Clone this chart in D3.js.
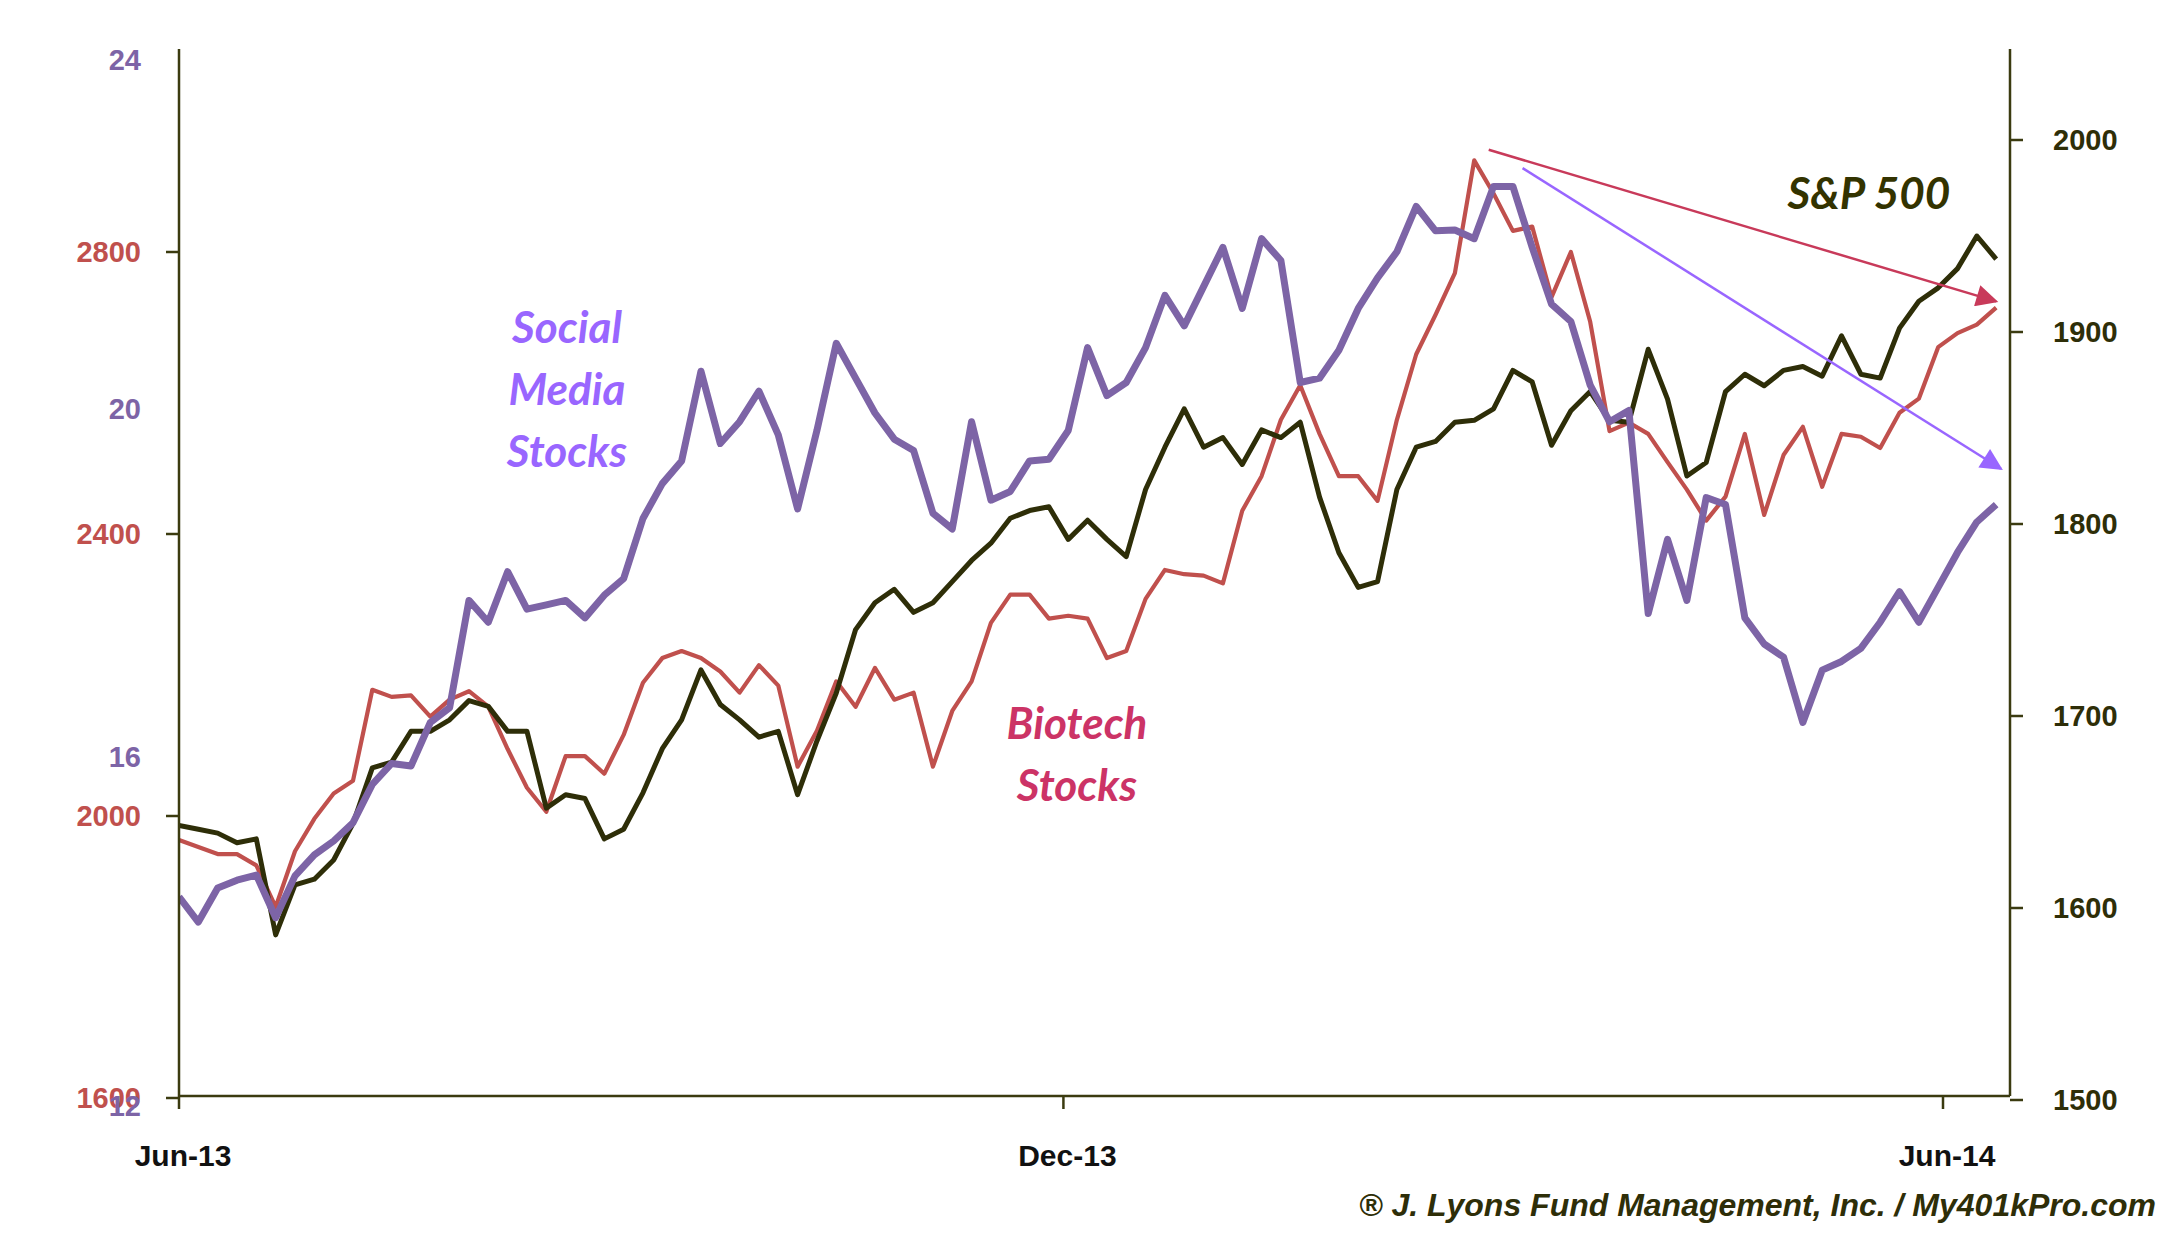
<!DOCTYPE html>
<html><head><meta charset="utf-8">
<script src="https://cdn.jsdelivr.net/npm/d3@7"></script>
<style>body{margin:0;background:#fff}svg{display:block}</style>
</head><body><svg id="c" width="2184" height="1241"></svg>
<script>
const startDate = "2013-06-01";
const stepDays = 4;
const social = [14.40,14.11,14.50,14.59,14.65,14.16,14.64,14.88,15.04,15.25,15.69,15.93,15.90,16.40,16.57,17.80,17.55,18.13,17.70,17.75,17.80,17.60,17.86,18.05,18.74,19.14,19.40,20.43,19.60,19.85,20.20,19.70,18.85,19.75,20.75,20.35,19.95,19.65,19.52,18.80,18.62,19.85,18.95,19.05,19.40,19.42,19.75,20.70,20.15,20.30,20.70,21.30,20.95,21.40,21.85,21.15,21.95,21.70,20.30,20.35,20.67,21.15,21.50,21.80,22.32,22.04,22.05,21.95,22.55,22.55,21.85,21.20,21.00,20.27,19.85,19.98,17.65,18.50,17.80,18.98,18.90,17.60,17.30,17.15,16.40,17.00,17.10,17.25,17.55,17.90,17.55,17.95,18.35,18.70,18.90];
const biotech = [1966,1956,1946,1946,1930,1871,1950,1996,2032,2050,2179,2169,2171,2141,2165,2177,2155,2095,2040,2006,2085,2085,2060,2115,2189,2224,2234,2224,2205,2175,2214,2185,2070,2121,2191,2155,2210,2165,2175,2070,2149,2191,2274,2314,2314,2280,2284,2280,2224,2234,2308,2349,2343,2341,2330,2433,2482,2562,2611,2542,2482,2482,2447,2562,2655,2711,2770,2930,2883,2830,2836,2736,2800,2701,2546,2558,2542,2502,2463,2419,2453,2542,2427,2512,2552,2467,2542,2538,2522,2572,2592,2665,2685,2697,2721];
const sp500 = [1643,1641,1639,1634,1636,1586,1612,1615,1625,1644,1673,1676,1692,1692,1698,1708,1705,1692,1692,1652,1659,1657,1636,1641,1660,1683,1698,1724,1706,1698,1689,1692,1659,1687,1712,1745,1759,1766,1754,1759,1770,1781,1790,1803,1807,1809,1792,1802,1792,1783,1818,1840,1860,1840,1845,1831,1849,1845,1853,1814,1785,1767,1770,1818,1840,1843,1853,1854,1860,1880,1874,1841,1859,1869,1854,1853,1891,1865,1825,1832,1869,1878,1872,1880,1882,1877,1898,1878,1876,1902,1916,1923,1933,1950,1938];
const socialTicks = [12,16,20,24];
const biotechTicks = [1600,2000,2400,2800];
const spTicks = [1500,1600,1700,1800,1900,2000];
const xTickDates = ["2013-06-01","2013-12-01","2014-06-01"];
const xTickLabels = ["Jun-13","Dec-13","Jun-14"];
const redArrow = {from:["2014-02-27",2945], to:["2014-06-12",2730]};
const purpleArrow = {from:["2014-03-06",22.76], to:["2014-06-13",19.31]};

const parse = d3.timeParse("%Y-%m-%d");
const t0 = parse(startDate);
const dates = social.map((_,i)=>d3.timeDay.offset(t0, i*stepDays));

const svg = d3.select("#c");
const L=179, R=2010, T=49, B=1096;
const x = d3.scaleTime().domain([parse("2013-06-01"),parse("2014-06-01")]).range([179,1943]);
const yS = d3.scaleLinear().domain([12,24]).range([1106,60]);
const yB = d3.scaleLinear().domain([1600,2800]).range([1098,252]);
const yP = d3.scaleLinear().domain([1500,2000]).range([1100,140]);
const axisCol = "#3b3b10", purple="#7d64a6", red="#c0504d", blk="#2e2e08";

svg.append("defs").append("clipPath").attr("id","cp").append("rect").attr("x",L).attr("y",T).attr("width",R-L).attr("height",B-T);
const g = svg.append("g").attr("clip-path","url(#cp)");
function line(vals, y){return d3.line().x((d,i)=>x(dates[i])).y(d=>y(d))(vals);}
g.append("path").attr("d",line(biotech,yB)).attr("fill","none").attr("stroke",red).attr("stroke-width",4.2).attr("stroke-linejoin","round");
g.append("path").attr("d",line(sp500,yP)).attr("fill","none").attr("stroke",blk).attr("stroke-width",5).attr("stroke-linejoin","round");
g.append("path").attr("d",line(social,yS)).attr("fill","none").attr("stroke",purple).attr("stroke-width",7).attr("stroke-linejoin","round");

// axes
const tickFont = "'Liberation Sans Narrow', 'Liberation Sans', sans-serif";
svg.append("line").attr("x1",L).attr("x2",L).attr("y1",T).attr("y2",B).attr("stroke",axisCol).attr("stroke-width",2.5);
svg.append("line").attr("x1",R).attr("x2",R).attr("y1",T).attr("y2",B).attr("stroke",axisCol).attr("stroke-width",2.5);
svg.append("line").attr("x1",L).attr("x2",R).attr("y1",B).attr("y2",B).attr("stroke",axisCol).attr("stroke-width",2.5);
biotechTicks.forEach(v=>{
  svg.append("line").attr("x1",L-13).attr("x2",L).attr("y1",yB(v)).attr("y2",yB(v)).attr("stroke",axisCol).attr("stroke-width",2.5);
  svg.append("text").attr("x",141).attr("y",yB(v)+10).attr("text-anchor","end").attr("fill",red).attr("font-family",tickFont).attr("font-weight","bold").attr("font-size",29).text(v);
});
socialTicks.forEach(v=>{
  svg.append("text").attr("x",141).attr("y",yS(v)+10).attr("text-anchor","end").attr("fill",purple).attr("font-family",tickFont).attr("font-weight","bold").attr("font-size",29).text(v);
});
spTicks.forEach(v=>{
  svg.append("line").attr("x1",R).attr("x2",R+13).attr("y1",yP(v)).attr("y2",yP(v)).attr("stroke",axisCol).attr("stroke-width",2.5);
  svg.append("text").attr("x",2053).attr("y",yP(v)+10).attr("fill",blk).attr("font-family",tickFont).attr("font-weight","bold").attr("font-size",29).text(v);
});
xTickDates.forEach((d,i)=>{
  const xx = x(parse(d));
  svg.append("line").attr("x1",xx).attr("x2",xx).attr("y1",B).attr("y2",B+13).attr("stroke",axisCol).attr("stroke-width",2.5);
  svg.append("text").attr("x",xx+4).attr("y",1166).attr("text-anchor","middle").attr("fill","#111").attr("font-family",tickFont).attr("font-weight","bold").attr("font-size",30).text(xTickLabels[i]);
});

// arrows
const defs = svg.select("defs");
function marker(id,col){defs.append("marker").attr("id",id).attr("viewBox","0 0 10 10").attr("refX",9).attr("refY",5).attr("markerWidth",7).attr("markerHeight",6).attr("orient","auto").attr("markerUnits","userSpaceOnUse").attr("markerWidth",26).attr("markerHeight",22).append("path").attr("d","M0,0L10,5L0,10z").attr("fill",col);}
marker("ar","#c83a5a"); marker("ap","#9966ff");
svg.append("line").attr("x1",x(parse(redArrow.from[0]))).attr("y1",yB(redArrow.from[1])).attr("x2",x(parse(redArrow.to[0]))).attr("y2",yB(redArrow.to[1])).attr("stroke","#c83a5a").attr("stroke-width",2.5).attr("marker-end","url(#ar)");
svg.append("line").attr("x1",x(parse(purpleArrow.from[0]))).attr("y1",yS(purpleArrow.from[1])).attr("x2",x(parse(purpleArrow.to[0]))).attr("y2",yS(purpleArrow.to[1])).attr("stroke","#9966ff").attr("stroke-width",2.5).attr("marker-end","url(#ap)");

// labels
const lf = "Lato, 'Open Sans', sans-serif";
function lab(lines, cx, ys, col){lines.forEach((s,i)=>svg.append("text").attr("x",cx).attr("y",ys[i]).attr("text-anchor","middle").attr("fill",col).attr("font-family",lf).attr("font-style","italic").attr("font-weight","bold").attr("font-size",44).text(s));}
lab(["Social","Media","Stocks"],567,[343,405,467],"#9966ff");
lab(["Biotech","Stocks"],1077,[739,801],"#cc3366");
lab(["S&P 500"],1869,[209],"#333300");
svg.append("text").attr("x",2156).attr("y",1216).attr("text-anchor","end").attr("fill","#2e2e08").attr("font-family","'Liberation Sans Narrow', sans-serif").attr("font-style","italic").attr("font-weight","bold").attr("font-size",32).text("® J. Lyons Fund Management, Inc. / My401kPro.com");
</script></body></html>
